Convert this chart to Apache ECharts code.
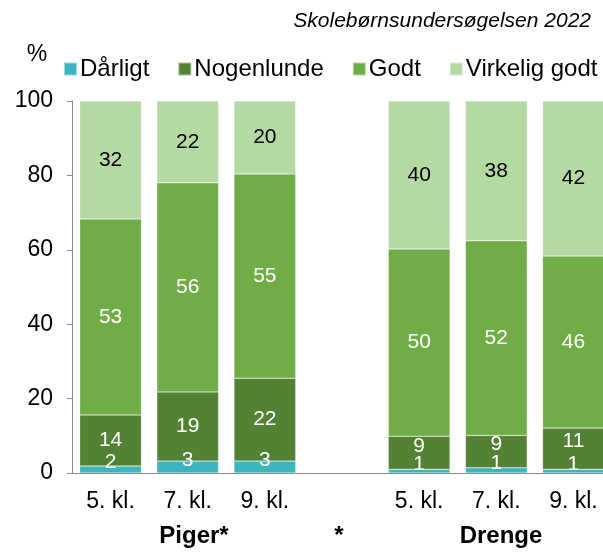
<!DOCTYPE html>
<html><head><meta charset="utf-8">
<script src="https://cdn.jsdelivr.net/npm/echarts@6/dist/echarts.min.js"></script>
<style>html,body{margin:0;padding:0;background:#fff;overflow:hidden;width:603px;height:552px}#c{width:612px;height:552px}</style>
</head><body><div id="c"></div>
<script>
const categories = ['5. kl.', '7. kl.', '9. kl.', '', '5. kl.', '7. kl.', '9. kl.'];
const seriesNames = ['Dårligt', 'Nogenlunde', 'Godt', 'Virkelig godt'];
const darligt     = [1.9, 3.2, 3.2, null, 1.0, 1.4, 1.0];
const nogenlunde  = [13.7, 18.6, 22.3, null, 8.9, 8.7, 11.1];
const godt        = [52.7, 56.2, 54.9, null, 50.3, 52.3, 46.2];
const virkeligGodt= [31.7, 22.0, 19.6, null, 39.8, 37.6, 41.7];
const yTicks = [0, 20, 40, 60, 80, 100];
const groupLabels = ['Piger*', '*', 'Drenge'];
const title = 'Skolebørnsundersøgelsen 2022';

const colors = ['#3BB6BF', '#548235', '#70AD47', '#B5D9A3'];
const labelColors = ['#fff', '#fff', '#fff', '#000'];
const font = 'Liberation Sans, Arial, sans-serif';
const dataSets = [darligt, nogenlunde, godt, virkeligGodt];

const chart = echarts.init(document.getElementById('c'));
chart.setOption({
  animation: false,
  textStyle: {fontFamily: font},
  graphic: [
    {type: 'text', x: 591, y: 21, style: {text: title, font: 'italic 21px ' + font, fill: '#000', align: 'right', verticalAlign: 'middle'}},
    {type: 'text', x: 37, y: 55, style: {text: '%', font: '23px ' + font, fill: '#000', align: 'center', verticalAlign: 'middle'}},
    {type: 'text', x: 194, y: 536, style: {text: groupLabels[0], font: 'bold 24px ' + font, fill: '#000', align: 'center', verticalAlign: 'middle'}},
    {type: 'text', x: 339, y: 536, style: {text: groupLabels[1], font: 'bold 24px ' + font, fill: '#000', align: 'center', verticalAlign: 'middle'}},
    {type: 'text', x: 501, y: 536, style: {text: groupLabels[2], font: 'bold 24px ' + font, fill: '#000', align: 'center', verticalAlign: 'middle'}}
  ],
  legend: {
    left: 58, top: 52, itemWidth: 13, itemHeight: 13, itemGap: 28,
    icon: 'rect',
    textStyle: {fontFamily: font, fontSize: 24, color: '#000', padding: [0, 0, 0, -2]},
    data: seriesNames
  },
  grid: {left: 72, right: 0, top: 101, bottom: 79, containLabel: false},
  xAxis: {
    type: 'category', data: categories,
    axisLine: {lineStyle: {color: '#888', width: 1}},
    axisTick: {show: false},
    axisLabel: {fontSize: 23, color: '#000', margin: 17, fontFamily: font}
  },
  yAxis: {
    type: 'value', min: 0, max: 100, interval: 20,
    axisLine: {show: true, lineStyle: {color: '#888'}},
    axisTick: {show: true, length: 5, lineStyle: {color: '#888'}},
    splitLine: {show: false},
    axisLabel: {fontSize: 23, color: '#000', margin: 19, fontFamily: font,
      formatter: v => yTicks.includes(v) ? String(v) : ''}
  },
  series: dataSets.map((d, i) => ({
    name: seriesNames[i], type: 'bar', stack: 'a', barWidth: '80%',
    data: d.map(v => ({
      value: v,
      label: {offset: (i === 0 || (i === 1 && v !== null && v < 12)) ? [0, -7] : [0, 0]}
    })),
    itemStyle: {color: colors[i], borderColor: 'rgba(255,255,255,0.5)', borderWidth: 0.5},
    label: {show: true, position: 'inside', color: labelColors[i], fontSize: 21, fontFamily: font,
      formatter: p => p.value == null ? '' : String(Math.round(p.value))}
  }))
});
</script></body></html>
